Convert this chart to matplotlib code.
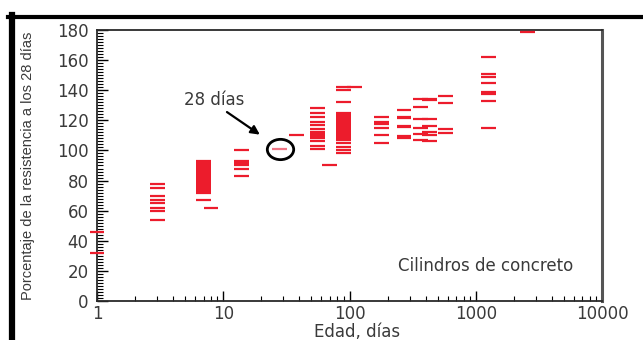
import matplotlib
matplotlib.use("Agg")
import matplotlib.pyplot as plt
from matplotlib.lines import Line2D
from matplotlib.path import Path
from matplotlib.transforms import Affine2D
from matplotlib.ticker import MultipleLocator, LogLocator, NullFormatter, FixedLocator

# edad (dias) de cada grupo de ensayos y porcentajes
ages = [1, 3, 7, 8, 14, 28, 38, 56, 70, 90, 110, 180, 270, 365, 430, 580, 1270, 2550]
pct_1 = [46, 32]
pct_3 = [78, 75, 70, 67, 65, 62, 60, 54]
pct_7 = [93, 92, 91, 90, 89, 88, 87, 86, 85, 84, 83, 82, 81, 80, 79, 78, 77, 76, 75, 74, 73, 72, 67]
pct_8 = [62]
pct_14 = [100, 93, 91.5, 90, 88, 83]
pct_28 = [101]
pct_38 = [110.5]
pct_56 = [128, 125, 122, 119, 117, 114, 112, 111, 110, 109, 108, 106, 103, 101]
pct_70 = [90]
pct_90 = [142, 140, 132, 125, 124, 123, 122, 121, 120, 119, 118, 117, 116, 115, 114, 113,
          112, 111, 110, 109, 108, 107, 105, 102, 100, 98]
pct_110 = [142]
pct_180 = [122, 119, 117.5, 115, 110, 105]
pct_270 = [127, 122.5, 121.5, 116.5, 115.5, 109.5, 108.5]
pct_365 = [134, 129, 121, 115, 111, 107]
pct_430 = [134.5, 133.5, 121, 116.5, 112, 110.5, 106.5]
pct_580 = [136, 131.5, 114, 111.5]
pct_1270 = [162, 151, 148.5, 144.5, 139, 137.5, 133, 115]
pct_2550 = [179]
groups = [pct_1, pct_3, pct_7, pct_8, pct_14, pct_28, pct_38, pct_56, pct_70, pct_90, pct_110,
          pct_180, pct_270, pct_365, pct_430, pct_580, pct_1270, pct_2550]

red = "#ec1c2c"
txt = "#3a3a3a"
half = 10 ** 0.059  # half width of each dash, in log space

fig = plt.figure(figsize=(6.43, 3.40), dpi=100)
ax = fig.add_axes([97 / 643, 39 / 340, 505 / 643, 271 / 340])

for age, vals in zip(ages, groups):
    col = "#f07585" if age == 28 else red
    ax.hlines(vals, age / half, age * half, colors=col, lw=1.6, clip_on=False, zorder=3)

ax.set_xscale("log")
ax.set_xlim(1, 10000)
ax.set_ylim(0, 180)

# circulo alrededor del punto de 28 dias
ell = Path.unit_circle().transformed(Affine2D().scale(1.3, 1.0))
ax.plot([28], [101], marker=ell, ms=19, mfc="none", mec="black", mew=2, zorder=4)
ax.annotate("", xy=(19.5, 110.5), xytext=(10.7, 125.5),
            arrowprops=dict(arrowstyle="-|>", color="black", lw=1.6, mutation_scale=13,
                            shrinkA=0, shrinkB=0))
ax.text(8.5, 133.5, "28 días", ha="center", va="center", fontsize=12, color=txt,
        family="DejaVu Sans")
ax.text(0.77, 0.13, "Cilindros de concreto", transform=ax.transAxes, ha="center",
        va="center", fontsize=12, color=txt, family="DejaVu Sans")

ax.yaxis.set_major_locator(MultipleLocator(20))
ax.yaxis.set_minor_locator(MultipleLocator(2))
ax.xaxis.set_major_locator(FixedLocator([1, 10, 100, 1000, 10000]))
ax.xaxis.set_minor_locator(LogLocator(base=10, subs=range(2, 10)))
ax.xaxis.set_minor_formatter(NullFormatter())
ax.set_xticklabels(["1", "10", "100", "1000", "10000"])

ax.tick_params(axis="y", which="major", direction="in", length=8, width=1, pad=6,
               labelsize=12, labelcolor=txt)
ax.tick_params(axis="y", which="minor", direction="in", length=4, width=0.8)
ax.tick_params(axis="x", which="major", direction="in", length=7, width=1, pad=3,
               labelsize=12, labelcolor=txt)
ax.tick_params(axis="x", which="minor", direction="in", length=3.5, width=0.8)
for lab in ax.get_xticklabels() + ax.get_yticklabels():
    lab.set_family("DejaVu Sans")

for s in ax.spines.values():
    s.set_color("#2a2a2a")
    s.set_linewidth(1.3)
ax.spines["right"].set_color("#555555")
ax.spines["right"].set_linewidth(2.2)

ax.set_xlabel("Edad, días", fontsize=12, color=txt, family="DejaVu Sans")
ax.xaxis.set_label_coords(0.514, -0.082)
ax.set_ylabel("Porcentaje de la resistencia a los 28 días", fontsize=10.5, color=txt,
              family="Liberation Sans")
ax.yaxis.set_label_coords(-0.123, 0.5)

# marco negro exterior (arriba e izquierda)
fig.add_artist(Line2D([8 / 643, 1.0], [1 - 17 / 340] * 2, color="black", lw=3,
                      transform=fig.transFigure))
fig.add_artist(Line2D([11.5 / 643] * 2, [0, 1 - 15 / 340], color="black", lw=4.5,
                      transform=fig.transFigure))

fig.savefig("out.png", dpi=100)
